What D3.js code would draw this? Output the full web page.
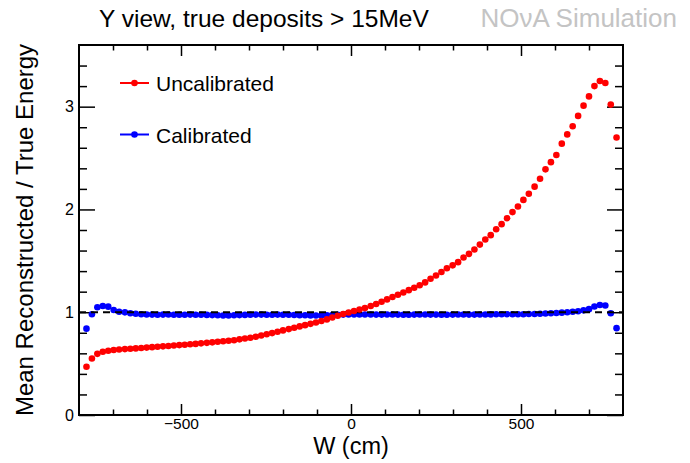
<!DOCTYPE html>
<html>
<head>
<meta charset="utf-8">
<script src="https://cdn.jsdelivr.net/npm/d3@7"></script>
<style>
  html, body { margin: 0; padding: 0; background: #fff; }
  svg { display: block; }
  text { font-family: "Liberation Sans", Arial, Helvetica, sans-serif; }
</style>
</head>
<body>
<svg id="chart" width="690" height="463"></svg>
<script>
// ---------------- data ----------------
const titleText = "Y view, true deposits > 15MeV";
const watermark = "NOνA Simulation";
const xLabel = "W (cm)";
const yLabel = "Mean Reconstructed / True Energy";
const seriesNames = ["Uncalibrated", "Calibrated"];
const xMajorTicks = [-500, 0, 500];
const xTickLabels = ["\u2212500", "0", "500"];
const yMajorTicks = [0, 1, 2, 3];
const yTickLabels = ["0", "1", "2", "3"];
const referenceLevel = 1;

const wCenters = [
  -778, -762, -746, -730, -714, -698, -682, -665, -649, -633,
  -617, -601, -585, -569, -553, -537, -521, -505, -489, -473,
  -457, -441, -424, -408, -392, -376, -360, -344, -328, -312,
  -296, -280, -264, -248, -232, -216, -200, -183, -167, -151,
  -135, -119, -103, -87, -71, -55, -39, -23, -7, 9,
  25, 41, 58, 74, 90, 106, 122, 138, 154, 170,
  186, 202, 218, 234, 250, 266, 282, 299, 315, 331,
  347, 363, 379, 395, 411, 427, 443, 459, 475, 491,
  507, 523, 540, 556, 572, 588, 604, 620, 636, 652,
  668, 684, 700, 716, 732, 748, 764, 781
];

const uncalibrated = [
  0.47, 0.55, 0.595, 0.615, 0.625, 0.632, 0.637, 0.641, 0.645, 0.648,
  0.652, 0.656, 0.66, 0.664, 0.668, 0.672, 0.676, 0.68, 0.684, 0.688,
  0.692, 0.697, 0.702, 0.707, 0.712, 0.717, 0.722, 0.728, 0.736, 0.744,
  0.752, 0.762, 0.773, 0.785, 0.797, 0.81, 0.823, 0.836, 0.849, 0.862,
  0.874, 0.887, 0.9, 0.914, 0.93, 0.948, 0.965, 0.982, 0.997, 1.012,
  1.026, 1.04, 1.06, 1.08, 1.102, 1.125, 1.148, 1.17, 1.192, 1.215,
  1.238, 1.262, 1.29, 1.325, 1.358, 1.392, 1.428, 1.456, 1.487, 1.532,
  1.568, 1.61, 1.658, 1.707, 1.75, 1.808, 1.857, 1.915, 1.974, 2.028,
  2.093, 2.152, 2.222, 2.298, 2.39, 2.46, 2.53, 2.64, 2.73, 2.81,
  2.91, 3.01, 3.10, 3.20, 3.25, 3.23, 3.02, 2.70
];

const calibrated = [
  0.84, 0.98, 1.048, 1.06, 1.054, 1.022, 1.005, 0.999, 0.99, 0.985,
  0.98, 0.978, 0.977, 0.975, 0.977, 0.978, 0.976, 0.975, 0.976, 0.977,
  0.976, 0.975, 0.974, 0.972, 0.97, 0.968, 0.968, 0.97, 0.972, 0.974,
  0.976, 0.977, 0.977, 0.976, 0.976, 0.977, 0.976, 0.975, 0.973, 0.971,
  0.97, 0.969, 0.968, 0.968, 0.97, 0.972, 0.975, 0.977, 0.978, 0.979,
  0.979, 0.978, 0.978, 0.977, 0.977, 0.978, 0.978, 0.977, 0.976, 0.976,
  0.977, 0.978, 0.978, 0.977, 0.977, 0.976, 0.976, 0.977, 0.978, 0.978,
  0.977, 0.977, 0.978, 0.978, 0.979, 0.98, 0.98, 0.981, 0.98, 0.98,
  0.981, 0.982, 0.983, 0.985, 0.988, 0.99, 0.993, 0.996, 1.0, 1.005,
  1.01, 1.018, 1.03, 1.055, 1.07, 1.065, 0.99, 0.845
];

const colors = ["#ff0000", "#0000ff"];

// ---------------- layout ----------------
const svg = d3.select("#chart");
const frame = { left: 79, right: 623, top: 45, bottom: 415 };

const x = d3.scaleLinear().domain([-800, 800]).range([frame.left, frame.right]);
const y = d3.scaleLinear().domain([0, 3.6]).range([frame.bottom, frame.top]);

const xMinor = d3.range(-700, 800, 100).filter(v => !xMajorTicks.includes(v));
const yMinor = d3.range(1, 18).map(k => +(k * 0.2).toFixed(1)).filter(v => !yMajorTicks.includes(v));

function styleAxis(g) {
  g.select(".domain").remove();
  g.selectAll(".tick line").attr("stroke", "#000").attr("stroke-width", 1.5);
  g.selectAll(".tick text").attr("fill", "#000");
}

// bottom axis
svg.append("g").attr("transform", `translate(0,${frame.bottom})`)
  .call(d3.axisBottom(x).tickValues(xMajorTicks).tickSize(-11).tickSizeOuter(0).tickPadding(3)
    .tickFormat((d, i) => xTickLabels[i]))
  .call(styleAxis)
  .call(g => g.selectAll(".tick text").attr("font-size", 15.5).attr("font-family", "Liberation Sans, Arial, sans-serif"));
svg.append("g").attr("transform", `translate(0,${frame.bottom})`)
  .call(d3.axisBottom(x).tickValues(xMinor).tickSize(-5.5).tickSizeOuter(0).tickFormat(""))
  .call(styleAxis);
// top axis
svg.append("g").attr("transform", `translate(0,${frame.top})`)
  .call(d3.axisTop(x).tickValues(xMajorTicks).tickSize(-11).tickSizeOuter(0).tickFormat(""))
  .call(styleAxis);
svg.append("g").attr("transform", `translate(0,${frame.top})`)
  .call(d3.axisTop(x).tickValues(xMinor).tickSize(-5.5).tickSizeOuter(0).tickFormat(""))
  .call(styleAxis);
// left axis
svg.append("g").attr("transform", `translate(${frame.left},0)`)
  .call(d3.axisLeft(y).tickValues(yMajorTicks).tickSize(-16).tickSizeOuter(0).tickPadding(5)
    .tickFormat((d, i) => yTickLabels[i]))
  .call(styleAxis)
  .call(g => g.selectAll(".tick text").attr("font-size", 16).attr("font-family", "Liberation Sans, Arial, sans-serif"));
svg.append("g").attr("transform", `translate(${frame.left},0)`)
  .call(d3.axisLeft(y).tickValues(yMinor).tickSize(-8).tickSizeOuter(0).tickFormat(""))
  .call(styleAxis);
// right axis
svg.append("g").attr("transform", `translate(${frame.right},0)`)
  .call(d3.axisRight(y).tickValues(yMajorTicks).tickSize(-16).tickSizeOuter(0).tickFormat(""))
  .call(styleAxis);
svg.append("g").attr("transform", `translate(${frame.right},0)`)
  .call(d3.axisRight(y).tickValues(yMinor).tickSize(-8).tickSizeOuter(0).tickFormat(""))
  .call(styleAxis);

// frame
svg.append("rect")
  .attr("x", frame.left).attr("y", frame.top)
  .attr("width", frame.right - frame.left).attr("height", frame.bottom - frame.top)
  .attr("fill", "none").attr("stroke", "#000").attr("stroke-width", 2);

// data
const plot = svg.append("g");
const R = 3.3;

plot.append("g").selectAll("circle")
  .data(wCenters.map((w, i) => [w, calibrated[i]]))
  .join("circle")
  .attr("cx", d => x(d[0])).attr("cy", d => y(d[1])).attr("r", R)
  .attr("fill", colors[1]);

plot.append("line")
  .attr("x1", x(-800)).attr("x2", x(800))
  .attr("y1", y(referenceLevel)).attr("y2", y(referenceLevel))
  .attr("stroke", "#000").attr("stroke-width", 2).attr("stroke-dasharray", "7,5");

plot.append("g").selectAll("circle")
  .data(wCenters.map((w, i) => [w, uncalibrated[i]]))
  .join("circle")
  .attr("cx", d => x(d[0])).attr("cy", d => y(d[1])).attr("r", R)
  .attr("fill", colors[0]);

// legend
const legendRows = [83, 134.5];
seriesNames.forEach((name, i) => {
  const g = svg.append("g");
  g.append("line").attr("x1", 120).attr("x2", 149)
    .attr("y1", legendRows[i]).attr("y2", legendRows[i])
    .attr("stroke", colors[i]).attr("stroke-width", 2);
  g.append("circle").attr("cx", 134.5).attr("cy", legendRows[i]).attr("r", R).attr("fill", colors[i]);
  g.append("text").attr("x", 156).attr("y", legendRows[i] + 8)
    .attr("font-size", 21).attr("fill", "#000").text(name);
});

// titles
svg.append("text").attr("x", 99).attr("y", 27).attr("font-size", 24.5).attr("fill", "#000").text(titleText);
svg.append("text").attr("x", 677).attr("y", 27).attr("text-anchor", "end")
  .attr("font-size", 26).attr("fill", "#c4c4c4").text(watermark);

svg.append("text").attr("x", (frame.left + frame.right) / 2).attr("y", 454)
  .attr("text-anchor", "middle").attr("font-size", 23.5).attr("fill", "#000").text(xLabel);

svg.append("text")
  .attr("transform", `translate(33,${(frame.top + frame.bottom) / 2}) rotate(-90)`)
  .attr("text-anchor", "middle").attr("font-size", 24).attr("fill", "#000").text(yLabel);
</script>
</body>
</html>
